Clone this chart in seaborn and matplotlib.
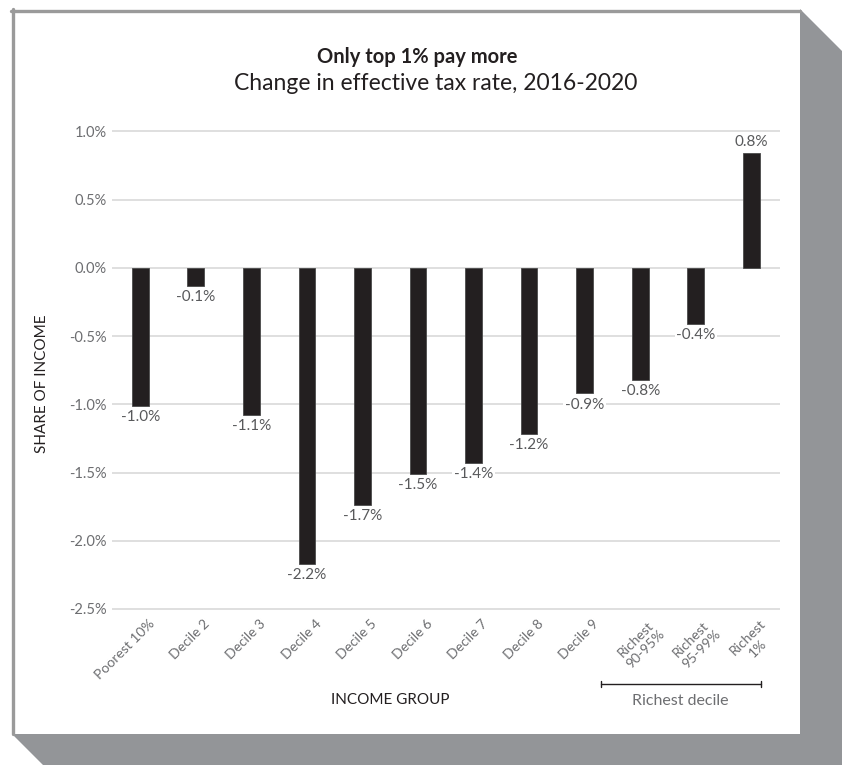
import matplotlib
matplotlib.use("Agg")
import matplotlib.pyplot as plt
import matplotlib.transforms as mtransforms
from matplotlib.patches import Polygon
from matplotlib.lines import Line2D
import seaborn as sns
import pandas as pd

categories = ["Poorest 10%", "Decile 2", "Decile 3", "Decile 4", "Decile 5",
              "Decile 6", "Decile 7", "Decile 8", "Decile 9",
              "Richest 90-95%", "Richest 95-99%", "Richest 1%"]
tick_labels = ["Poorest 10%", "Decile 2", "Decile 3", "Decile 4", "Decile 5",
               "Decile 6", "Decile 7", "Decile 8", "Decile 9",
               "Richest\n90-95%", "Richest\n95-99%", "Richest\n1%"]
values = [-1.01, -0.13, -1.08, -2.17, -1.74, -1.51, -1.43, -1.22, -0.92, -0.82, -0.41, 0.84]
y_ticks = [1.0, 0.5, 0.0, -0.5, -1.0, -1.5, -2.0, -2.5]

sns.set_theme(style="white")
FONT = ["Lato", "DejaVu Sans"]
plt.rcParams["font.family"] = FONT

W, H = 842, 765
fig = plt.figure(figsize=(W / 100, H / 100), dpi=100)
fig.patch.set_facecolor("white")

def fx(x):
    return x / W

def fy(y):
    return 1 - y / H

# shadow
D = 120
shadow = [(800, 9), (800 + D, 9 + D), (800 + D, 734 + D), (12 + D, 734 + D), (12, 734), (800, 734)]
fig.patches.append(Polygon([(fx(x), fy(y)) for x, y in shadow], closed=True,
                           transform=fig.transFigure, facecolor="#939598",
                           edgecolor="none", zorder=0))
# border lines (left and top)
fig.lines.append(Line2D([fx(12.5), fx(12.5)], [fy(9), fy(734)], transform=fig.transFigure,
                        color="#9a9a9a", lw=2.4, zorder=1))
fig.lines.append(Line2D([fx(11), fx(800)], [fy(10.5), fy(10.5)], transform=fig.transFigure,
                        color="#9a9a9a", lw=2.4, zorder=1))

ax = fig.add_axes([112 / W, 1 - 611.7 / H, (779.5 - 112) / W, (611.7 - 128.7) / H])
ax.set_facecolor("none")

df = pd.DataFrame({"group": categories, "value": values})
sns.barplot(data=df, x="group", y="value", order=categories, color="#231f20",
            width=0.3, saturation=1, edgecolor="#4a4a4a", linewidth=0.6, ax=ax, zorder=3)

ax.set_xlim(-0.508, len(categories) - 1 + 0.508)
ax.set_ylim(-2.52, 1.02)
ax.set_yticks(y_ticks)
ax.set_yticklabels([f"{t:.1f}%" for t in y_ticks], fontsize=10.5, color="#6d6e71")
ax.yaxis.grid(True, color="#dcdcdc", lw=1.3, zorder=0)
ax.set_axisbelow(True)
for s in ax.spines.values():
    s.set_visible(False)
ax.tick_params(axis="y", length=0, pad=4)
ax.tick_params(axis="x", length=0, pad=0)
ax.set_xticks(range(len(categories)))
ax.set_xticklabels(tick_labels, rotation=45, ha="right", rotation_mode="anchor",
                   fontsize=10, color="#6d6e71", linespacing=1.25)
offset = mtransforms.ScaledTranslation(8 / 100, -6 / 100, fig.dpi_scale_trans)
for lbl in ax.get_xticklabels():
    lbl.set_multialignment("center")
    lbl.set_transform(lbl.get_transform() + offset)
ax.set_xlabel("")
ax.set_ylabel("")

for i, v in enumerate(values):
    txt = f"{v:.1f}%"
    if v < 0:
        ax.annotate(txt, (i, v), xytext=(0, -3), textcoords="offset points",
                    ha="center", va="top", fontsize=11, color="#58595b", zorder=4,
                    bbox=dict(boxstyle="square,pad=0.1", fc="white", ec="none"))
    else:
        ax.annotate(txt, (i, v), xytext=(0, 3), textcoords="offset points",
                    ha="center", va="bottom", fontsize=11, color="#58595b", zorder=4,
                    bbox=dict(boxstyle="square,pad=0.1", fc="white", ec="none"))

fig.text(fx(417), fy(57), "Only top 1% pay more", ha="center", va="center",
         fontsize=14.5, fontweight="bold", color="#231f20")
fig.text(fx(436), fy(84), "Change in effective tax rate, 2016-2020", ha="center", va="center",
         fontsize=16.5, color="#231f20")
fig.text(fx(42), fy(384), "SHARE OF INCOME", rotation=90, ha="center", va="center",
         fontsize=11, color="#231f20")
fig.text(fx(390), fy(700), "INCOME GROUP", ha="center", va="center",
         fontsize=11, color="#231f20")
fig.text(fx(680), fy(701), "Richest decile", ha="center", va="center",
         fontsize=11.5, color="#6d6e71")
# bracket
fig.lines.append(Line2D([fx(601), fx(761)], [fy(684), fy(684)], transform=fig.transFigure,
                        color="#231f20", lw=1))
for xb in (601, 761):
    fig.lines.append(Line2D([fx(xb), fx(xb)], [fy(681), fy(687)], transform=fig.transFigure,
                            color="#231f20", lw=1))

fig.savefig("out.png", dpi=100)
